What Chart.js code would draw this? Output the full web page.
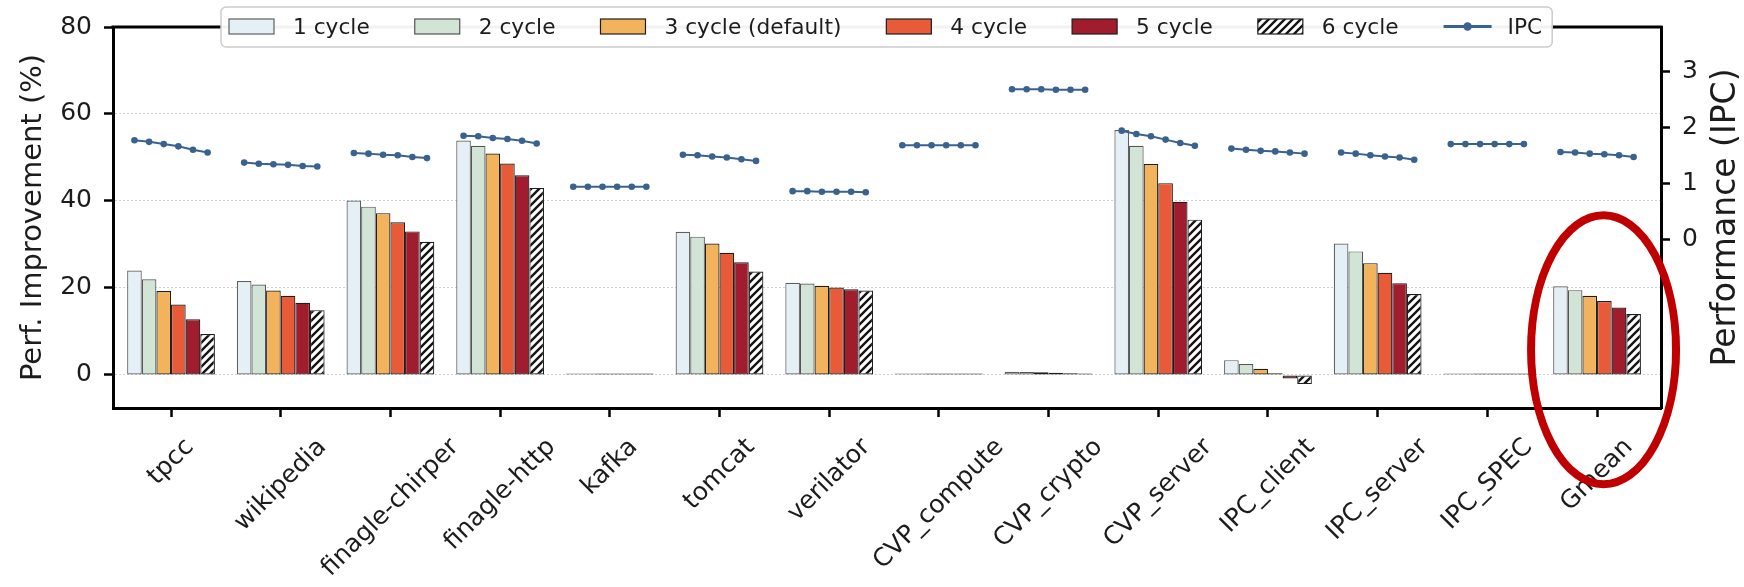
<!DOCTYPE html>
<html>
<head>
<meta charset="utf-8">
<script src="https://cdn.jsdelivr.net/npm/chart.js@4.4.0/dist/chart.umd.min.js"></script>
<style>
  html, body { margin: 0; padding: 0; background: #ffffff; }
  #wrap { width: 1744px; height: 587px; }
</style>
</head>
<body>
<div id="wrap"><canvas id="c" width="1744" height="587"></canvas></div>
<script>
// Workloads along the x axis
const categories = ['tpcc', 'wikipedia', 'finagle-chirper', 'finagle-http', 'kafka', 'tomcat', 'verilator',
  'CVP_compute', 'CVP_crypto', 'CVP_server', 'IPC_client', 'IPC_server', 'IPC_SPEC', 'Gmean'];

// Performance improvement (%) for each latency setting
const cycle1 = [24.0, 21.6, 40.1, 53.9, 0.05, 32.9, 21.2, 0.2, 0.75, 56.3, 3.4, 30.2, 0.05, 20.4];
const cycle2 = [22.0, 20.8, 38.7, 52.7, 0.05, 31.8, 21.0, 0.2, 0.7, 52.7, 2.5, 28.4, 0.05, 19.5];
const cycle3 = [19.3, 19.4, 37.2, 50.9, 0.05, 30.2, 20.5, 0.15, 0.6, 48.5, 1.4, 25.7, 0.05, 18.2];
const cycle4 = [16.2, 18.2, 35.1, 48.6, 0.05, 28.1, 20.1, 0.1, 0.5, 44.1, 0.4, 23.5, 0.05, 17.0];
const cycle5 = [12.8, 16.6, 33.0, 45.9, 0.05, 25.9, 19.7, 0.1, 0.4, 39.8, -0.8, 21.1, 0.05, 15.5];
const cycle6 = [9.4, 14.9, 30.6, 43.0, 0.05, 23.8, 19.4, 0.05, 0.3, 35.7, -2.1, 18.6, 0.05, 14.0];

// IPC for each latency setting
const ipc1 = [1.78, 1.38, 1.55, 1.86, 0.95, 1.52, 0.87, 1.69, 2.69, 1.95, 1.63, 1.56, 1.71, 1.57];
const ipc2 = [1.75, 1.36, 1.54, 1.85, 0.95, 1.51, 0.87, 1.69, 2.69, 1.89, 1.61, 1.54, 1.71, 1.56];
const ipc3 = [1.71, 1.35, 1.52, 1.82, 0.95, 1.49, 0.86, 1.69, 2.69, 1.85, 1.59, 1.51, 1.71, 1.54];
const ipc4 = [1.67, 1.34, 1.51, 1.80, 0.95, 1.47, 0.86, 1.69, 2.68, 1.79, 1.58, 1.49, 1.71, 1.53];
const ipc5 = [1.61, 1.32, 1.48, 1.77, 0.95, 1.44, 0.86, 1.69, 2.68, 1.73, 1.56, 1.47, 1.71, 1.51];
const ipc6 = [1.56, 1.31, 1.46, 1.72, 0.95, 1.41, 0.85, 1.69, 2.68, 1.68, 1.54, 1.43, 1.71, 1.48];

const seriesLabels = ['1 cycle', '2 cycle', '3 cycle (default)', '4 cycle', '5 cycle', '6 cycle'];
const leftTicks = [0, 20, 40, 60, 80];
const rightTicks = [0, 1, 2, 3];

const FONT = "'DejaVu Sans', 'Liberation Sans', sans-serif";
const TEXT = '#1c1c1c';
const GROUP = 0.8;          // fraction of a slot taken by one group of bars
const IPC_COLOR = '#3a628f';

const canvas = document.getElementById('c');
const ctx = canvas.getContext('2d');

// diagonal "///" hatch for the 6-cycle bars
function makeHatch() {
  const s = 8;
  const t = document.createElement('canvas');
  t.width = s; t.height = s;
  const g = t.getContext('2d');
  g.fillStyle = '#ffffff';
  g.fillRect(0, 0, s, s);
  g.strokeStyle = '#151515';
  g.lineWidth = 2.4;
  g.beginPath();
  g.moveTo(-1, s + 1); g.lineTo(s + 1, -1);
  g.moveTo(-s / 2 - 1, s / 2 + 1); g.lineTo(s / 2 + 1, -s / 2 - 1);
  g.moveTo(s / 2 - 1, s * 1.5 + 1); g.lineTo(s * 1.5 + 1, s / 2 - 1);
  g.stroke();
  return ctx.createPattern(t, 'repeat');
}

const fills = ['#e4f0f6', '#d2e4d5', '#f3b35d', '#e85b39', '#a11d2d', makeHatch()];
const edges = ['#5f5f5f', '#555555', '#1e1e1e', '#1e1e1e', '#1e1e1e', '#1e1e1e'];
const seriesValues = [cycle1, cycle2, cycle3, cycle4, cycle5, cycle6];
const ipcValues = [ipc1, ipc2, ipc3, ipc4, ipc5, ipc6];

const barSets = seriesValues.map((vals, k) => ({
  type: 'bar',
  label: seriesLabels[k],
  data: vals.map((v, i) => ({ x: i, y: v })),
  backgroundColor: fills[k],
  borderColor: edges[k],
  borderWidth: 1.2,
  borderSkipped: false,
  minBarLength: 1.5,
  categoryPercentage: GROUP,
  barPercentage: 1.0,
  yAxisID: 'y',
  order: 1
}));

// one short IPC segment above every group, one point over each bar
const ipcPoints = [];
categories.forEach((_, i) => {
  ipcValues.forEach((arr, k) => {
    ipcPoints.push({ x: i + (k - 2.5) * GROUP / 6, y: arr[i] });
  });
  ipcPoints.push({ x: i + 0.5, y: null });
});

const ipcSet = {
  type: 'line',
  label: 'IPC',
  data: ipcPoints,
  borderColor: IPC_COLOR,
  backgroundColor: IPC_COLOR,
  borderWidth: 2,
  pointRadius: 3.3,
  pointBorderWidth: 0,
  pointBackgroundColor: IPC_COLOR,
  tension: 0,
  spanGaps: false,
  yAxisID: 'y2',
  order: 0
};

const decor = {
  id: 'decor',
  beforeDatasetsDraw(chart) {
    const c = chart.ctx, a = chart.chartArea;
    c.save();
    c.strokeStyle = '#000';
    c.lineWidth = 3;
    c.beginPath();
    c.moveTo(a.left - 1.5, a.top);
    c.lineTo(a.right + 1.5, a.top);
    c.stroke();
    c.restore();
  },
  afterDraw(chart) {
    const c = chart.ctx, a = chart.chartArea;
    const xs = chart.scales.x, ys = chart.scales.y;

    // rotated workload names, centred under each tick
    c.save();
    const fs = 25;
    c.font = fs + 'px ' + FONT;
    c.fillStyle = TEXT;
    c.textAlign = 'center';
    c.textBaseline = 'middle';
    const topY = a.bottom + 25;
    xs.ticks.forEach(t => {
      const label = categories[t.value];
      const w = c.measureText(label).width;
      const half = (w + fs * 1.16) * Math.SQRT1_2 / 2;
      c.save();
      c.translate(xs.getPixelForValue(t.value), topY + half);
      c.rotate(-Math.PI / 4);
      c.fillText(label, 0, 0);
      c.restore();
    });
    c.restore();

    // axis titles
    const midY = (a.top + a.bottom) / 2;
    c.save();
    c.fillStyle = TEXT;
    c.textAlign = 'center';
    c.textBaseline = 'middle';
    c.font = '29px ' + FONT;
    c.translate(33, midY);
    c.rotate(-Math.PI / 2);
    c.fillText('Perf. Improvement (%)', 0, 0);
    c.restore();
    c.save();
    c.fillStyle = TEXT;
    c.textAlign = 'center';
    c.textBaseline = 'middle';
    c.font = '33px ' + FONT;
    c.translate(a.right + 65, midY);
    c.rotate(-Math.PI / 2);
    c.fillText('Performance (IPC)', 0, 0);
    c.restore();

    // legend
    c.save();
    c.font = '21.7px ' + FONT;
    const handle = 45, gapText = 19, gapItem = 45;
    const items = chart.data.datasets.filter(d => d.type === 'bar').concat(chart.data.datasets.filter(d => d.type === 'line'));
    const startX = a.left + 116;
    let width = 8;
    items.forEach(d => { width += handle + gapText + c.measureText(d.label).width + gapItem; });
    width = width - gapItem + 10;
    const boxX = startX - 8, boxY = 7, boxH = 40;
    c.fillStyle = 'rgba(255,255,255,0.95)';
    c.strokeStyle = '#cccccc';
    c.lineWidth = 1.5;
    c.beginPath();
    c.roundRect(boxX, boxY, width, boxH, 5);
    c.fill();
    c.stroke();
    let x = startX;
    const cy = boxY + boxH / 2 - 0.5;
    items.forEach(d => {
      if (d.type === 'bar') {
        c.fillStyle = d.backgroundColor;
        c.fillRect(x, cy - 7.5, handle, 15);
        c.strokeStyle = d.borderColor;
        c.lineWidth = 1.2;
        c.strokeRect(x, cy - 7.5, handle, 15);
      } else {
        c.strokeStyle = d.borderColor;
        c.lineWidth = 3;
        c.beginPath();
        c.moveTo(x, cy); c.lineTo(x + handle + 3, cy);
        c.stroke();
        c.fillStyle = d.borderColor;
        c.beginPath();
        c.arc(x + (handle + 3) / 2, cy, 4.2, 0, Math.PI * 2);
        c.fill();
      }
      c.fillStyle = TEXT;
      c.textAlign = 'left';
      c.textBaseline = 'alphabetic';
      c.fillText(d.label, x + handle + gapText, cy + 7.5);
      x += handle + gapText + c.measureText(d.label).width + gapItem;
    });
    c.restore();

    // highlight ring around the geometric mean group
    const gx = xs.getPixelForValue(categories.length - 1) + 6.5;
    const gy = ys.getPixelForValue(5.8);
    c.save();
    c.strokeStyle = '#c00000';
    c.lineWidth = 8;
    c.beginPath();
    c.ellipse(gx, gy, 72.5, 134.5, 0, 0, Math.PI * 2);
    c.stroke();
    c.restore();
  }
};

new Chart(ctx, {
  data: { datasets: [ipcSet].concat(barSets) },
  options: {
    responsive: false,
    animation: false,
    devicePixelRatio: 1,
    layout: { padding: { top: 24, left: 0, right: 0, bottom: 0 } },
    plugins: { legend: { display: false }, tooltip: { enabled: false } },
    scales: {
      x: {
        type: 'linear',
        offset: false,
        min: -0.529,
        max: 13.583,
        afterBuildTicks: s => { s.ticks = categories.map((_, i) => ({ value: i })); },
        afterFit: s => { s.height = 179; },
        ticks: { display: false },
        grid: { display: true, offset: false, drawOnChartArea: false, drawTicks: true, tickLength: 9, tickWidth: 2.5, tickColor: '#000' },
        border: { display: true, color: '#000', width: 3 }
      },
      y: {
        position: 'left',
        min: -7.6,
        max: 80,
        afterBuildTicks: s => { s.ticks = leftTicks.map(v => ({ value: v })); },
        afterFit: s => { s.width = 113; },
        ticks: { font: { family: FONT, size: 25 }, color: TEXT, padding: 12 },
        grid: {
          color: c => (c.tick && c.tick.value === 80) ? 'rgba(0,0,0,0)' : '#cfcfcf',
          lineWidth: 1,
          drawTicks: true, tickLength: 9, tickWidth: 2.5, tickColor: '#000', tickBorderDash: []
        },
        border: { display: true, color: '#000', width: 3, dash: [2, 2] }
      },
      y2: {
        position: 'right',
        min: -3,
        max: 3.8,
        afterBuildTicks: s => { s.ticks = rightTicks.map(v => ({ value: v })); },
        afterFit: s => { s.width = 83; },
        ticks: { font: { family: FONT, size: 25 }, color: TEXT, padding: 12 },
        grid: { drawOnChartArea: false, drawTicks: true, tickLength: 9, tickWidth: 2.5, tickColor: '#000' },
        border: { display: true, color: '#000', width: 3 }
      }
    }
  },
  plugins: [decor]
});
</script>
</body>
</html>
